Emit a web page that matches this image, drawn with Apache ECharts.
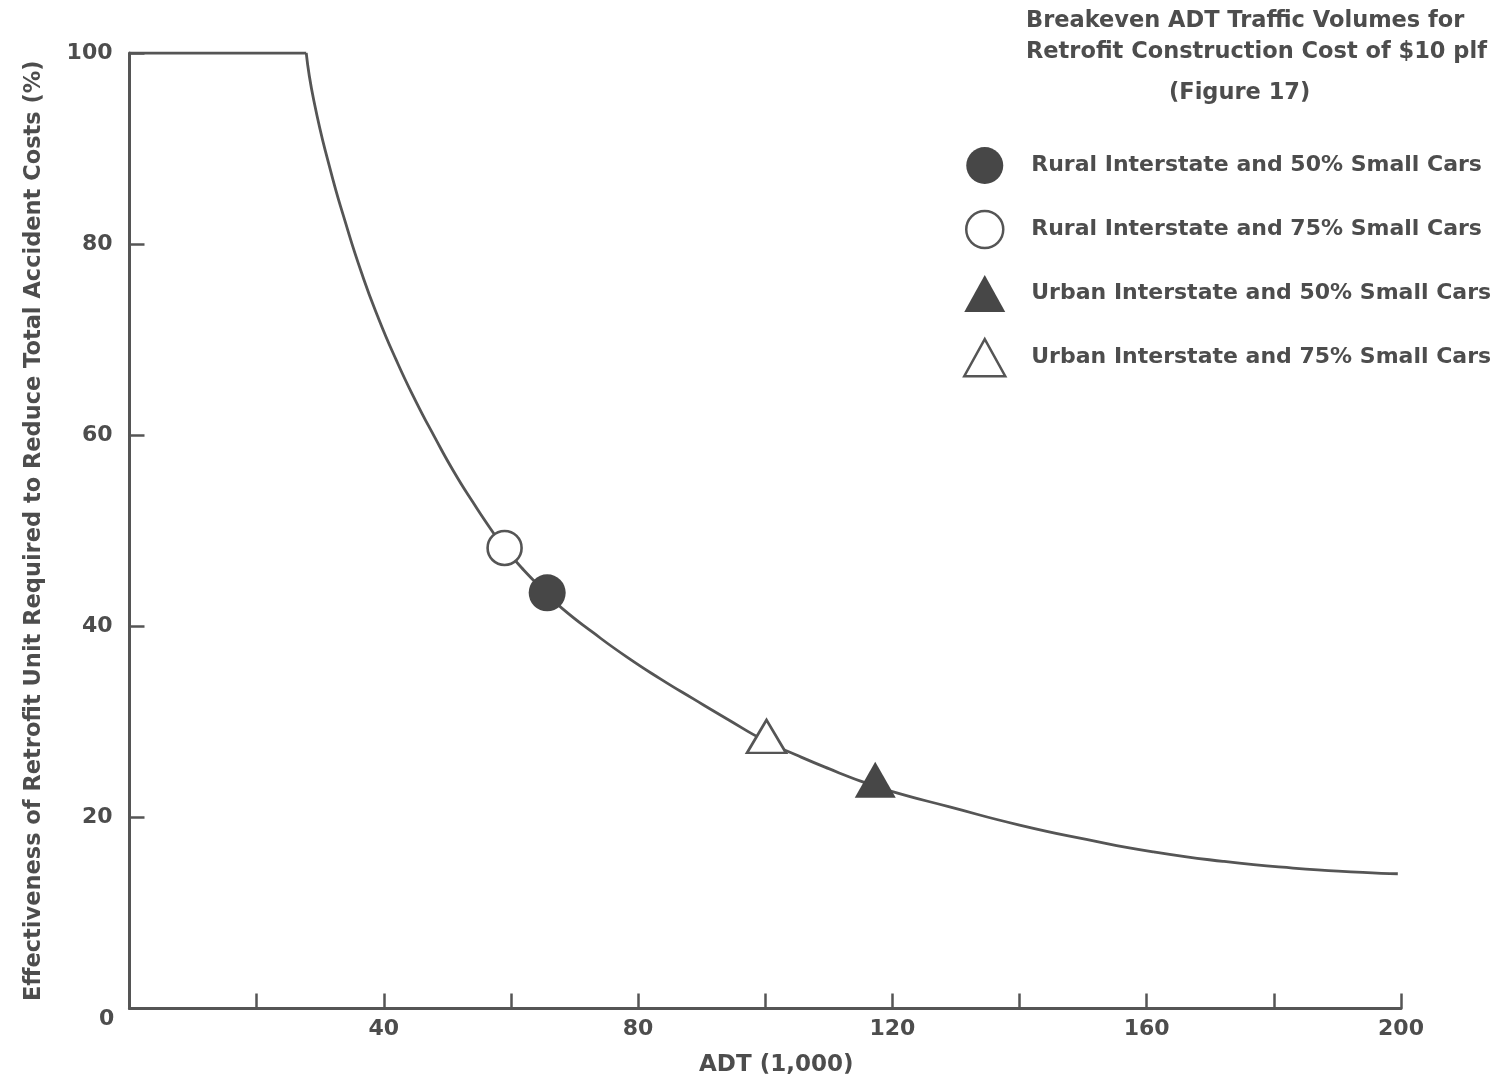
<!DOCTYPE html>
<html>
<head>
<meta charset="utf-8">
<script src="https://cdn.jsdelivr.net/npm/echarts@6/dist/echarts.min.js"></script>
<style>
  html, body { margin: 0; padding: 0; background: #ffffff; }
  #chart { width: 1502px; height: 1086px; }
</style>
</head>
<body>
<div id="chart"></div>
<script>
// Breakeven effectiveness curve: flat at 100% up to the knee, then falling with ADT
const flatSegment = [[0, 100], [27.8, 100]];
const curvePoints = [
  [27.8, 100], [29.0, 95.0], [31.5, 88.0], [34.0, 82.2], [36.5, 77.0], [39.0, 72.5],
  [42.0, 67.8], [45.0, 63.6], [48.0, 59.8], [51.0, 56.2], [54.0, 53.0], [57.0, 50.0],
  [59.0, 48.2], [62.0, 45.9], [65.7, 43.4], [68.0, 41.9], [73.0, 39.3], [78.2, 36.8],
  [83.5, 34.5], [88.7, 32.4], [94.0, 30.3], [100.0, 28.0], [105.0, 26.5], [110.0, 25.1],
  [115.0, 23.8], [120.0, 22.7], [129.0, 21.1], [140.0, 19.2], [150.5, 17.7], [161.0, 16.4],
  [172.0, 15.4], [183.0, 14.7], [194.0, 14.25], [199.5, 14.1]
];

// Breakeven points for each road type / small-car share
const rural50 = [[65.7, 43.5]];
const rural75 = [[59.0, 48.2]];
const urban50 = [[117.3, 23.3]];
const urban75 = [[100.2, 27.9]];

const seriesNames = [
  'Rural Interstate and 50% Small Cars',
  'Rural Interstate and 75% Small Cars',
  'Urban Interstate and 50% Small Cars',
  'Urban Interstate and 75% Small Cars'
];

const xTickLabels = [40, 80, 120, 160, 200];
const yTickLabels = [20, 40, 60, 80, 100];
const originLabel = '0';

const xAxisTitle = 'ADT (1,000)';
const yAxisTitle = 'Effectiveness of Retrofit Unit Required to Reduce Total Accident Costs (%)';
const legendTitleLines = ['Breakeven ADT Traffic Volumes for', 'Retrofit Construction Cost of $10 plf'];
const legendFigureRef = '(Figure 17)';

const INK = '#4d4d4d';
const LINE = '#555555';
const FILL = '#474747';
const FONT = 'DejaVu Sans';

const textBase = { fontFamily: FONT, fontWeight: 'bold', color: INK };

const chart = echarts.init(document.getElementById('chart'), null, { renderer: 'canvas' });

chart.setOption({
  backgroundColor: '#ffffff',
  animation: false,
  title: [
    {
      text: legendTitleLines.join('\n'),
      left: 1026, top: 6, padding: 0,
      textStyle: Object.assign({}, textBase, { fontSize: 22.5, lineHeight: 31 })
    },
    {
      text: legendFigureRef,
      left: 1169, top: 78, padding: 0,
      textStyle: Object.assign({}, textBase, { fontSize: 22.5, lineHeight: 31 })
    }
  ],
  legend: {
    orient: 'vertical',
    left: 963, top: 147,
    itemWidth: 41, itemHeight: 37, itemGap: 25.8,
    selectedMode: false,
    padding: 0,
    textStyle: Object.assign({}, textBase, { fontSize: 22, padding: [0, 0, 0, 21] }),
    data: [
      { name: seriesNames[0], icon: 'circle', itemStyle: { color: FILL, borderWidth: 0 } },
      { name: seriesNames[1], icon: 'circle', itemStyle: { color: '#ffffff', borderColor: LINE, borderWidth: 2.5 } },
      { name: seriesNames[2], icon: 'triangle', itemStyle: { color: FILL, borderWidth: 0 } },
      { name: seriesNames[3], icon: 'triangle', itemStyle: { color: '#ffffff', borderColor: LINE, borderWidth: 2.5 } }
    ]
  },
  grid: { left: 129.5, right: 101, top: 53, bottom: 77.5, containLabel: false },
  xAxis: {
    type: 'value', min: 0, max: 200, interval: 20,
    name: xAxisTitle, nameLocation: 'middle', nameGap: 45,
    nameTextStyle: Object.assign({}, textBase, { fontSize: 23, padding: [0, 0, 0, 22] }),
    axisLine: { show: true, onZero: false, lineStyle: { color: LINE, width: 3 } },
    axisTick: { show: true, inside: true, length: 15, lineStyle: { color: LINE, width: 2.5 } },
    axisLabel: Object.assign({}, textBase, {
      fontSize: 22, margin: 10,
      formatter: v => (xTickLabels.indexOf(v) >= 0 ? String(v) : '')
    }),
    splitLine: { show: false }
  },
  yAxis: {
    type: 'value', min: 0, max: 100, interval: 20,
    name: yAxisTitle, nameLocation: 'middle', nameGap: 84, nameRotate: 90,
    nameTextStyle: Object.assign({}, textBase, { fontSize: 22.5 }),
    axisLine: { show: true, lineStyle: { color: LINE, width: 3 } },
    axisTick: { show: true, inside: true, length: 15, lineStyle: { color: LINE, width: 2.5 } },
    axisLabel: Object.assign({}, textBase, {
      fontSize: 22, margin: 17,
      formatter: v => (yTickLabels.indexOf(v) >= 0 ? String(v) : '')
    }),
    splitLine: { show: false }
  },
  graphic: [
    {
      type: 'text', left: 99, top: 1008,
      style: { text: originLabel, fill: INK, font: 'bold 22px "DejaVu Sans"' }
    }
  ],
  series: [
    {
      type: 'line', data: flatSegment, showSymbol: false, silent: true,
      lineStyle: { color: LINE, width: 2.8 }, z: 2
    },
    {
      type: 'line', data: curvePoints, showSymbol: false, silent: true, smooth: 0.55,
      lineStyle: { color: LINE, width: 2.8 }, z: 2
    },
    {
      name: seriesNames[0], type: 'scatter', data: rural50,
      symbol: 'circle', symbolSize: 37, z: 5,
      itemStyle: { color: FILL, opacity: 1 }
    },
    {
      name: seriesNames[1], type: 'scatter', data: rural75,
      symbol: 'circle', symbolSize: 34, z: 5,
      itemStyle: { color: '#ffffff', borderColor: LINE, borderWidth: 2.6, opacity: 1 }
    },
    {
      name: seriesNames[2], type: 'scatter', data: urban50,
      symbol: 'triangle', symbolSize: [41, 36], symbolOffset: [0, -6], z: 5,
      itemStyle: { color: FILL, opacity: 1 }
    },
    {
      name: seriesNames[3], type: 'scatter', data: urban75,
      symbol: 'triangle', symbolSize: [39, 33], symbolOffset: [0, -5.5], z: 5,
      itemStyle: { color: '#ffffff', borderColor: LINE, borderWidth: 2.6, opacity: 1 }
    }
  ]
});
</script>
</body>
</html>
